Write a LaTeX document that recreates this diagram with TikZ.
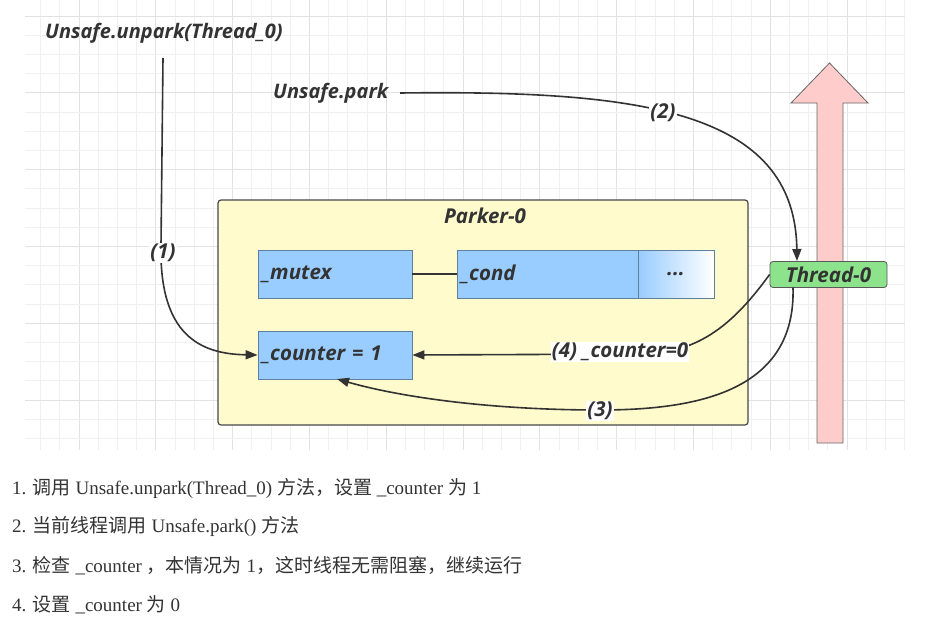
\documentclass[tikz,border=0pt]{standalone}
\usepackage{fontspec}
\setmainfont{Liberation Serif}
\newfontfamily\cjk{Noto Sans CJK SC}
\newfontfamily\dfont{Open Sans}
\usetikzlibrary{arrows.meta}
\definecolor{linec}{HTML}{333333}
\definecolor{gridminor}{HTML}{F0F0F0}
\definecolor{gridmajor}{HTML}{E2E2E2}
\definecolor{yellowf}{HTML}{FFFBCC}
\definecolor{bluef}{HTML}{99CCFF}
\definecolor{blued}{HTML}{5F7F9F}
\definecolor{greenf}{HTML}{8CE38C}
\definecolor{pinkf}{HTML}{FFCCCC}
\definecolor{txt}{HTML}{333333}
\tikzset{
  dtext/.style={font=\dfont\bfseries\itshape\fontsize{20.5}{22}\selectfont, text=linec},
  toplbl/.style={dtext, font=\dfont\bfseries\itshape\fontsize{20}{22}\selectfont, inner sep=0pt},
  bbox/.style={dtext, draw=blued, line width=0.8pt, fill=bluef, minimum height=48pt, inner xsep=4pt, align=left},
  conn/.style={draw=linec, line width=1.6pt, -{Triangle[length=12pt,width=9pt]}},
  elbl/.style={dtext, fill=white, inner sep=1pt},
  note/.style={anchor=base west, text=txt, font=\fontsize{19}{22}\selectfont, inner sep=0pt},
}
\begin{document}
\begin{tikzpicture}[x=1pt,y=-1pt]
\path[use as bounding box, fill=white] (0,0) rectangle (926,635);
% grid
\begin{scope}
\clip (25,0) rectangle (905,450);
\foreach \i in {1,...,47} {
  \pgfmathtruncatemacro{\m}{mod(\i,4)}
  \ifnum\m=0
    \draw[gridmajor, line width=0.8pt] ({2.2+19.2*\i},0) -- ({2.2+19.2*\i},450);
  \else
    \draw[gridminor, line width=0.8pt] ({2.2+19.2*\i},0) -- ({2.2+19.2*\i},450);
  \fi
}
\foreach \j in {0,...,22} {
  \pgfmathtruncatemacro{\m}{mod(\j,4)}
  \ifnum\m=0
    \draw[gridmajor, line width=0.8pt] (25,{16+19.2*\j}) -- (905,{16+19.2*\j});
  \else
    \draw[gridminor, line width=0.8pt] (25,{16+19.2*\j}) -- (905,{16+19.2*\j});
  \fi
}
\end{scope}

% big pink arrow
\draw[fill=pinkf, draw=gray!80!black, line width=0.8pt]
  (817,443) -- (817,103) -- (791,103) -- (829.5,63) -- (868,103) -- (843,103) -- (843,443) -- cycle;

% labels top
\node[toplbl, anchor=west] (unpark) at (45,33) {Unsafe.unpark(Thread\_0)};
\node[toplbl, anchor=west] (park) at (273,93) {Unsafe.park};

% Parker box
\node[draw=linec!90, line width=1.2pt, fill=yellowf, rounded corners=3pt,
      minimum width=530pt, minimum height=225pt] (parker) at (483,312.5) {};
\node[dtext] (ptitle) at (485,216) {Parker-0};

\node[bbox, text width=146pt] (mutex) at (335,274) {\_mutex};
\node[bbox, text width=173pt] (cond) at (547.5,274) {\_cond};
\node[dtext, draw=blued, line width=0.8pt, left color=bluef, right color=white,
      minimum width=76pt, minimum height=48pt] (dots) at (676,274) {...};
\node[bbox, text width=146pt] (counter) at (335,355) {\_counter = 1};
\draw[linec, line width=1.6pt] (mutex) -- (cond);

% Thread-0
\node[dtext, draw=gray!70!black, line width=0.8pt, fill=greenf, rounded corners=3pt,
      minimum width=117pt, minimum height=26pt, inner sep=0pt] (thread) at (828.5,274.5) {Thread-0};

% connectors
\coordinate (s1) at (163,58);
\coordinate (s2) at (400,93);
\draw[conn] (s1) -- (161,245) .. controls (159,335) and (200,354) .. (counter.west);
\node[elbl] (l1) at (163,253) {(1)};
\draw[conn] (s2) .. controls (640,90) and (795,110) .. (797,261);
\node[elbl] (l2) at (663,113) {(2)};
\draw[conn] (thread.west) .. controls (735,322) and (700,354) .. (640,354) -- (counter.east);
\node[elbl] (l4) at (620,352) {(4) \_counter=0};
\draw[conn] (793,287.5) .. controls (796,390) and (700,410) .. (600,410)
  .. controls (490,410) and (400,397) .. (337,379);
\node[elbl] (l3) at (600,411) {(3)};

% notes
\node[note] (n1) at (12,494) {1. {\cjk 调用} Unsafe.unpark(Thread\_0) {\cjk 方法，设置} \_counter {\cjk 为} 1};
\node[note] (n2) at (12,532) {2. {\cjk 当前线程调用} Unsafe.park() {\cjk 方法}};
\node[note] (n3) at (12,572) {3. {\cjk 检查} \_counter {\cjk ，本情况为} 1{\cjk ，这时线程无需阻塞，继续运行}};
\node[note] (n4) at (12,611) {4. {\cjk 设置} \_counter {\cjk 为} 0};
\end{tikzpicture}
\end{document}
